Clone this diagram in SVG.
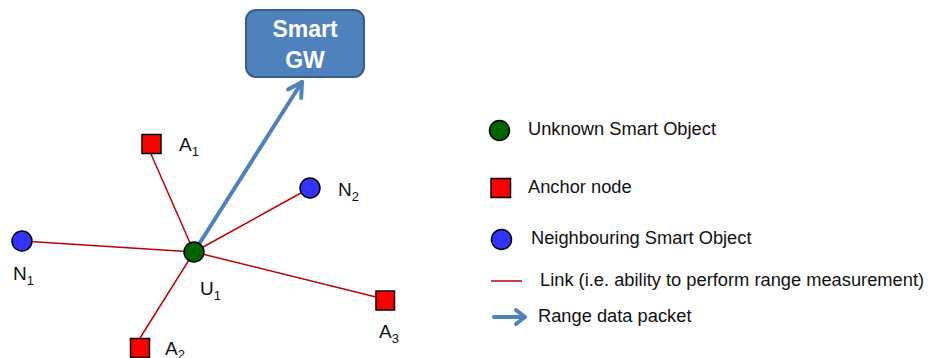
<svg xmlns="http://www.w3.org/2000/svg" width="928" height="358" viewBox="0 0 928 358">
<style>
text{font-family:"Liberation Sans",Arial,sans-serif;fill:#111}
.lbl{font-size:19px}
.sub{font-size:13px}
.leg{font-size:18.3px}
.link{stroke:#C00000;stroke-width:1.5;fill:none}
.pkt{stroke:#4F81BD;stroke-width:4;fill:none;stroke-linecap:round;stroke-linejoin:round}
.unk{fill:#006400;stroke:#000;stroke-width:1.5}
.anc{fill:#FF0000;stroke:#000;stroke-width:1.5}
.nbr{fill:#3333FF;stroke:#000;stroke-width:1.5}
</style>
<rect width="928" height="358" fill="#fff"/>
<g id="connectors">
<line class="link" x1="194" y1="252" x2="151" y2="154"/>
<line class="link" x1="194" y1="252" x2="310" y2="188"/>
<line class="link" x1="194" y1="252" x2="22" y2="241"/>
<line class="link" x1="194" y1="252" x2="140" y2="338"/>
<line class="link" x1="194" y1="252" x2="376" y2="297"/>
<line class="pkt" x1="194" y1="252" x2="302" y2="82"/>
<polyline class="pkt" points="288,89.5 302,82 301.2,98"/>
</g>
<g id="gw">
<rect x="246" y="10" width="118" height="67" rx="10" fill="#4F81BD" stroke="#385D8A" stroke-width="2"/>
<text x="305" y="37" text-anchor="middle" style="font-size:23px;font-weight:bold;fill:#fff">Smart</text>
<text x="305" y="68" text-anchor="middle" style="font-size:23px;font-weight:bold;fill:#fff">GW</text>
</g>
<g id="U1">
<circle class="unk" cx="194" cy="252" r="10"/>
<text class="lbl" x="200" y="295">U<tspan class="sub" dy="5">1</tspan></text>
</g>
<g id="A1">
<rect class="anc" x="142" y="134.5" width="19" height="19"/>
<text class="lbl" x="179" y="151">A<tspan class="sub" dy="5">1</tspan></text>
</g>
<g id="N2">
<circle class="nbr" cx="310" cy="188" r="10"/>
<text class="lbl" x="338" y="196">N<tspan class="sub" dy="5">2</tspan></text>
</g>
<g id="N1">
<circle class="nbr" cx="22" cy="241" r="10"/>
<text class="lbl" x="13" y="280">N<tspan class="sub" dy="5">1</tspan></text>
</g>
<g id="A2">
<rect class="anc" x="130.5" y="338.5" width="19" height="19"/>
<text class="lbl" x="165" y="355">A<tspan class="sub" dy="4">2</tspan></text>
</g>
<g id="A3">
<rect class="anc" x="376" y="291" width="18.5" height="19"/>
<text class="lbl" x="379" y="338">A<tspan class="sub" dy="5">3</tspan></text>
</g>
<g id="legend">
<circle class="unk" cx="499.5" cy="130.5" r="10"/>
<text class="leg" x="528" y="135">Unknown Smart Object</text>
<rect class="anc" x="491" y="178.5" width="19.5" height="19"/>
<text class="leg" x="528" y="193">Anchor node</text>
<circle class="nbr" cx="501.5" cy="239.5" r="10"/>
<text class="leg" x="531" y="244">Neighbouring Smart Object</text>
<line class="link" x1="491" y1="281" x2="522" y2="281"/>
<text class="leg" x="540" y="286">Link (i.e. ability to perform range measurement)</text>
<line class="pkt" x1="494" y1="317" x2="524" y2="317"/>
<polyline class="pkt" points="516,310 525,317 516,324"/>
<text class="leg" x="538" y="322">Range data packet</text>
</g>
</svg>
